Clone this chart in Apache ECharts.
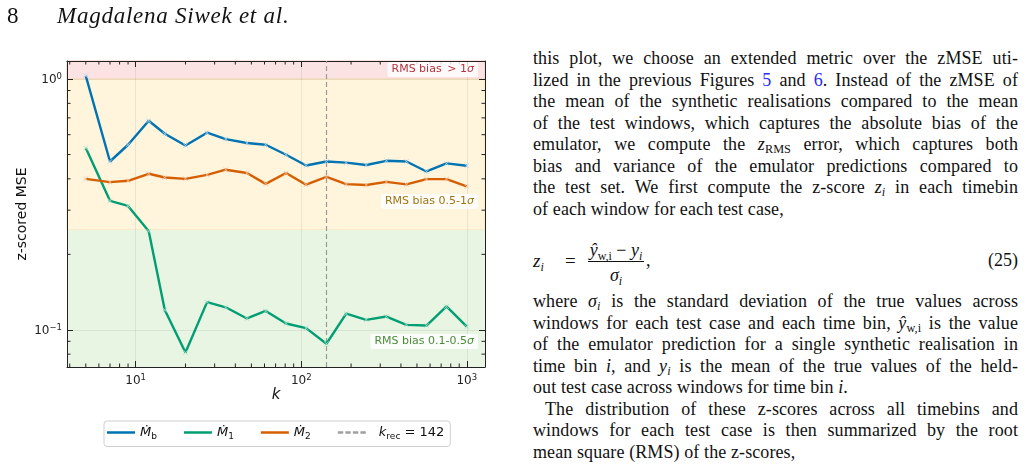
<!DOCTYPE html>
<html>
<head>
<meta charset="utf-8">
<script src="https://cdn.jsdelivr.net/npm/echarts@6/dist/echarts.min.js"></script>
<style>
  body { margin: 0; background: #fff; }
  #page { position: relative; width: 1026px; height: 473px; overflow: hidden; background: #fff; }
  #chart { position: absolute; left: 0; top: 0; width: 520px; height: 473px; }
  .tx { position: absolute; font-family: 'Liberation Serif', serif; color: #111; }
  .ln { position: absolute; left: 533px; width: 485px; font: 18px/22px 'Liberation Serif', serif; color: #111; letter-spacing: 0.1px; }
  .j { text-align: justify; text-align-last: justify; }
  .ln i, .tx i { font-style: italic; }
  .ln sub { font-size: 0.68em; vertical-align: -0.25em; line-height: 0; }
  .ref { color: #2b2bf5; }
  .eq sub { font-size: 12px; vertical-align: -4px; line-height: 0; }
</style>
</head>
<body>
<div id="page">
  <div id="chart"></div>

  <div class="tx" style="left:7px;top:3px;font-size:23px;">8</div>
  <div class="tx" style="left:57px;top:3px;font-size:23px;font-style:italic;letter-spacing:0.75px;">Magdalena Siwek et al.</div>

  <div class="ln j" style="top:47px">this plot, we choose an extended metric over the zMSE uti-</div>
  <div class="ln j" style="top:69px">lized in the previous Figures <span class="ref">5</span> and <span class="ref">6</span>. Instead of the zMSE of</div>
  <div class="ln j" style="top:90px">the mean of the synthetic realisations compared to the mean</div>
  <div class="ln j" style="top:112px">of the test windows, which captures the absolute bias of the</div>
  <div class="ln j" style="top:133px">emulator, we compute the <i>z</i><sub>RMS</sub> error, which captures both</div>
  <div class="ln j" style="top:155px">bias and variance of the emulator predictions compared to</div>
  <div class="ln j" style="top:176px">the test set. We first compute the z-score <i>z<sub>i</sub></i> in each timebin</div>
  <div class="ln" style="top:198px">of each window for each test case,</div>

  <div class="tx eq" style="left:533px;top:250px;font-size:19px;"><i>z<sub>i</sub></i></div>
  <div class="tx" style="left:565px;top:250px;font-size:19px;">=</div>
  <div class="tx eq" style="left:588px;top:239px;width:56px;font-size:18px;text-align:center;border-bottom:1px solid #111;line-height:22px;"><i>ŷ</i><sub>w,i</sub> − <i>y<sub>i</sub></i></div>
  <div class="tx eq" style="left:588px;top:264px;width:56px;font-size:18px;text-align:center;line-height:22px;"><i>σ<sub>i</sub></i></div>
  <div class="tx" style="left:646px;top:250px;font-size:18px;">,</div>
  <div class="tx" style="left:978px;top:250px;width:40px;text-align:right;font-size:18px;">(25)</div>

  <div class="ln j" style="top:290px">where <i>σ<sub>i</sub></i> is the standard deviation of the true values across</div>
  <div class="ln j" style="top:312px">windows for each test case and each time bin, <i>ŷ</i><sub>w,i</sub> is the value</div>
  <div class="ln j" style="top:333px">of the emulator prediction for a single synthetic realisation in</div>
  <div class="ln j" style="top:355px">time bin <i>i</i>, and <i>y<sub>i</sub></i> is the mean of the true values of the held-</div>
  <div class="ln" style="top:376px">out test case across windows for time bin <i>i</i>.</div>
  <div class="ln j" style="top:398px;left:545px;width:473px">The distribution of these z-scores across all timebins and</div>
  <div class="ln j" style="top:419px">windows for each test case is then summarized by the root</div>
  <div class="ln" style="top:441px">mean square (RMS) of the z-scores,</div>
</div>

<script>
// number of neighbours k tested
var kValues = [5, 7, 9, 12, 15, 20, 27, 35, 47, 61, 81, 107, 142, 187, 247, 327, 432, 571, 754, 1000];
// z-scored MSE per emulator target
var mbValues = [1.03, 0.469, 0.547, 0.682, 0.605, 0.543, 0.611, 0.576, 0.556, 0.547, 0.499, 0.452, 0.469, 0.464, 0.454, 0.472, 0.469, 0.428, 0.461, 0.451];
var m1Values = [0.531, 0.327, 0.312, 0.247, 0.120, 0.0812, 0.129, 0.123, 0.111, 0.119, 0.106, 0.1016, 0.088, 0.116, 0.1096, 0.113, 0.1047, 0.104, 0.124, 0.103];
var m2Values = [0.400, 0.388, 0.393, 0.419, 0.405, 0.400, 0.415, 0.435, 0.422, 0.382, 0.422, 0.379, 0.407, 0.381, 0.378, 0.389, 0.380, 0.399, 0.399, 0.373];
var kRec = 142;
// band limits (0.5 sigma and 1 sigma, squared)
var bandLimits = [0.25, 1];
var xRange = [3.85, 1288];
var yRange = [0.0711, 1.18];
var xMinorTicks = [4, 5, 6, 7, 8, 9, 20, 30, 40, 50, 60, 70, 80, 90, 200, 300, 400, 500, 600, 700, 800, 900];
var yMinorTicks = [0.08, 0.09, 0.2, 0.3, 0.4, 0.5, 0.6, 0.7, 0.8, 0.9];

var chart = echarts.init(document.getElementById('chart'));

var FONT = 'DejaVu Sans';
var xPath = 'path://M0,1 L1,0 L5,4 L9,0 L10,1 L6,5 L10,9 L9,10 L5,6 L1,10 L0,9 L4,5Z';

function pow10Label(v) {
  var e = Math.log10(v);
  var r = Math.round(e);
  if (Math.abs(e - r) > 1e-6) return '';
  return '{b|10}{s|' + (r < 0 ? '\u2212' + (-r) : r) + '}';
}
var supRich = {
  b: { fontSize: 12, fontFamily: FONT, color: '#222', verticalAlign: 'bottom', lineHeight: 14 },
  s: { fontSize: 8.5, fontFamily: FONT, color: '#222', verticalAlign: 'top', lineHeight: 14 }
};

function pairs(vals) {
  return kValues.map(function (k, i) { return [k, vals[i]]; });
}

function lineSeries(name, vals, color, marker) {
  return {
    name: name,
    type: 'line',
    data: pairs(vals),
    color: color,
    z: 5,
    symbol: xPath,
    symbolSize: 5,
    itemStyle: { color: marker },
    lineStyle: { color: color, width: 2.4 },
    emphasis: { disabled: true },
    animation: false
  };
}

var mb = lineSeries('Mb', mbValues, '#0173b2', 'rgba(185,212,232,0.9)');
mb.markArea = {
  silent: true,
  z: 1,
  data: [
    [{ yAxis: bandLimits[1], itemStyle: { color: '#fce3e3', borderColor: '#f6c8bc', borderWidth: 1 } }, { yAxis: yRange[1] }],
    [{ yAxis: bandLimits[0], itemStyle: { color: '#fff4dc', borderColor: '#f5e3b6', borderWidth: 1 } }, { yAxis: bandLimits[1] }],
    [{ yAxis: yRange[0], itemStyle: { color: '#e8f5e3' } }, { yAxis: bandLimits[0] }]
  ]
};

var m1 = lineSeries('M1', m1Values, '#029e73', 'rgba(170,222,200,0.9)');
var m2 = lineSeries('M2', m2Values, '#d55e00', 'rgba(238,198,170,0.9)');

var krec = {
  name: 'krec',
  type: 'line',
  data: [],
  color: '#9a9a9a',
  markLine: {
    silent: true,
    symbol: 'none',
    label: { show: false },
    lineStyle: { color: '#9a9a9a', width: 1.2, type: [5, 3] },
    data: [{ xAxis: kRec }],
    animation: false
  }
};

var xMinor = {
  type: 'custom',
  silent: true,
  z: 6,
  data: xMinorTicks.map(function (v) { return [v, yRange[0]]; }),
  renderItem: function (params, api) {
    var b = api.coord([api.value(0), yRange[0]]);
    var t = api.coord([api.value(0), yRange[1]]);
    return {
      type: 'group',
      children: [
        { type: 'line', shape: { x1: b[0], y1: b[1], x2: b[0], y2: b[1] - 3.5 }, style: { stroke: '#222', lineWidth: 1 } },
        { type: 'line', shape: { x1: t[0], y1: t[1], x2: t[0], y2: t[1] + 3.5 }, style: { stroke: '#222', lineWidth: 1 } }
      ]
    };
  }
};
var yMinor = {
  type: 'custom',
  silent: true,
  z: 6,
  data: yMinorTicks.map(function (v) { return [xRange[0], v]; }),
  renderItem: function (params, api) {
    var l = api.coord([xRange[0], api.value(1)]);
    var r = api.coord([xRange[1], api.value(1)]);
    return {
      type: 'group',
      children: [
        { type: 'line', shape: { x1: l[0], y1: l[1], x2: l[0] + 3.5, y2: l[1] }, style: { stroke: '#222', lineWidth: 1 } },
        { type: 'line', shape: { x1: r[0], y1: r[1], x2: r[0] - 3.5, y2: r[1] }, style: { stroke: '#222', lineWidth: 1 } }
      ]
    };
  }
};

function axisBase(pos) {
  return {
    type: 'log',
    logBase: 10,
    position: pos,
    z: 4,
    axisLine: { show: true, lineStyle: { color: '#222', width: 1 } },
    axisTick: { show: true, inside: true, length: 6, lineStyle: { color: '#222', width: 1 } },
    splitLine: { show: false },
    axisLabel: { show: false }
  };
}

var xBottom = axisBase('bottom');
xBottom.min = xRange[0]; xBottom.max = xRange[1];
xBottom.axisLabel = { show: true, margin: 6, formatter: pow10Label, rich: supRich };
xBottom.splitLine = { show: true, lineStyle: { color: 'rgba(0,0,0,0.07)', width: 1 } };
xBottom.name = 'k';
xBottom.nameLocation = 'middle';
xBottom.nameGap = 21;
xBottom.nameMoveOverlap = false;
xBottom.nameTextStyle = { fontFamily: FONT, fontSize: 15, fontStyle: 'italic', color: '#111' };

var xTop = axisBase('top');
xTop.min = xRange[0]; xTop.max = xRange[1];

var yLeft = axisBase('left');
yLeft.min = yRange[0]; yLeft.max = yRange[1];
yLeft.axisLabel = { show: true, margin: 5, formatter: pow10Label, rich: supRich };
yLeft.splitLine = { show: true, lineStyle: { color: 'rgba(0,0,0,0.07)', width: 1 } };
yLeft.name = 'z-scored MSE';
yLeft.nameLocation = 'middle';
yLeft.nameGap = 38;
yLeft.nameMoveOverlap = false;
yLeft.nameTextStyle = { fontFamily: FONT, fontSize: 14, color: '#111' };

var yRight = axisBase('right');
yRight.min = yRange[0]; yRight.max = yRange[1];

var dashIcon = 'path://M0,0h5v2h-5z M7,0h5v2h-5z M14,0h5v2h-5z M21,0h5v2h-5z';
var barIcon = 'path://M0,0h28v2h-28z';

var legendText = {
  Mb: '{m|\u1E40}{sub|b}',
  M1: '{m|\u1E40}{sub|1}',
  M2: '{m|\u1E40}{sub|2}',
  krec: '{gap|}{m|k}{sub|rec}{n| = 142}'
};

function bandLabel(text, color, y) {
  return {
    type: 'text',
    right: 520 - 478,
    top: y,
    z: 20,
    silent: true,
    style: {
      text: text,
      fill: color,
      font: '11px "DejaVu Sans"',
      backgroundColor: 'rgba(255,255,255,0.82)',
      borderRadius: 2,
      padding: [2, 4, 2, 4],
      rich: {
        g: { fontFamily: FONT, fontSize: 11, fontStyle: 'italic', fill: color }
      }
    }
  };
}

var option = {
  animation: false,
  textStyle: { fontFamily: FONT },
  grid: { left: 67, top: 61, width: 418, height: 306, containLabel: false },
  xAxis: [xBottom, xTop],
  yAxis: [yLeft, yRight],
  legend: {
    left: 104,
    top: 421,
    orient: 'horizontal',
    padding: [5, 6, 5, 3],
    itemGap: 27,
    itemWidth: 28,
    itemHeight: 2.5,
    symbolKeepAspect: false,
    borderColor: '#d0d0d0',
    borderWidth: 1,
    borderRadius: 3,
    selectedMode: false,
    data: [
      { name: 'Mb', icon: barIcon, itemStyle: { color: '#0173b2' } },
      { name: 'M1', icon: barIcon, itemStyle: { color: '#029e73' } },
      { name: 'M2', icon: barIcon, itemStyle: { color: '#d55e00' } },
      { name: 'krec', icon: dashIcon, itemStyle: { color: '#a0a0a0' } }
    ],
    formatter: function (name) { return legendText[name]; },
    textStyle: {
      fontFamily: FONT,
      fontSize: 12,
      color: '#111',
      rich: {
        gap: { width: 8, lineHeight: 18 },
        m: { fontFamily: FONT, fontSize: 13, fontStyle: 'italic', color: '#111', verticalAlign: 'middle', lineHeight: 18 },
        sub: { fontFamily: FONT, fontSize: 9, color: '#111', verticalAlign: 'bottom', lineHeight: 18 },
        n: { fontFamily: FONT, fontSize: 13, color: '#111', verticalAlign: 'middle', lineHeight: 18 }
      }
    }
  },
  graphic: [
    bandLabel('RMS bias \u2009> 1{g|\u03C3}', '#b3333f', 62),
    bandLabel('RMS bias 0.5-1{g|\u03C3}', '#9c7714', 194),
    bandLabel('RMS bias 0.1-0.5{g|\u03C3}', '#4c8a3a', 334)
  ],
  series: [mb, m1, m2, krec, xMinor, yMinor]
};

chart.setOption(option);
</script>
</body>
</html>
